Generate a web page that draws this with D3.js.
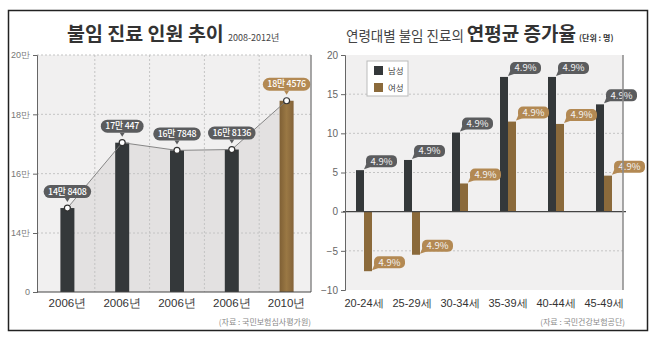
<!DOCTYPE html>
<html>
<head>
<meta charset="utf-8">
<script src="https://d3js.org/d3.v7.min.js"></script>
<style>
  body { margin: 0; background: #fff; }
  svg { display: block; font-family: "Noto Sans CJK KR", "Noto Sans", sans-serif; }
</style>
</head>
<body>
<svg id="chart"></svg>
<script>
// left panel: number of infertility patients
const years = ["2006년", "2006년", "2006년", "2006년", "2010년"];
const patients = [148408, 170447, 167848, 168136, 184576];
const patientTicks = [0, 140000, 160000, 180000, 200000];
const patientTickLabels = ["0", "14만", "16만", "18만", "20만"];

// right panel: average annual growth by age group
const ageGroups = ["20-24세", "25-29세", "30-34세", "35-39세", "40-44세", "45-49세"];
const male = [5.3, 6.6, 10.1, 17.2, 17.2, 13.7];
const female = [-7.6, -5.5, 3.6, 11.5, 11.2, 4.6];
const maleLabels = ["4.9%", "4.9%", "4.9%", "4.9%", "4.9%", "4.9%"];
const femaleLabels = ["4.9%", "4.9%", "4.9%", "4.9%", "4.9%", "4.9%"];
const sexes = ["남성", "여성"];
const rateTicks = [-10, -5, 0, 5, 10, 15, 20];

const width = 658, height = 342;
const dark = "#34383a", gold = "#8b6a3b";
const darkTag = "#5b5c5e", goldTag = "#b38953";

const svg = d3.select("#chart")
    .attr("width", width)
    .attr("height", height)
    .attr("viewBox", [0, 0, width, height]);

const defs = svg.append("defs");
const grad = defs.append("linearGradient").attr("id", "goldbar").attr("x1", 0).attr("x2", 1);
grad.append("stop").attr("offset", "0%").attr("stop-color", "#7f6035");
grad.append("stop").attr("offset", "50%").attr("stop-color", "#9a7844");
grad.append("stop").attr("offset", "100%").attr("stop-color", "#846339");

// outer frame
svg.append("rect")
    .attr("x", 8.5).attr("y", 10.5).attr("width", 639).attr("height", 320)
    .attr("fill", "none").attr("stroke", "#222").attr("stroke-width", 1.5);

// ---------- left chart ----------
const L = { left: 37, right: 311, top: 55, bottom: 292 };

// broken axis: 0 sits one step below 14만
const yL = d3.scaleLinear()
    .domain([0, 140000, 200000])
    .range([L.bottom, 233, L.top]);

const xL = d3.scaleBand()
    .domain(d3.range(years.length))
    .range([40, 314]);

const left = svg.append("g");

left.append("rect")
    .attr("x", L.left).attr("y", L.top)
    .attr("width", L.right - L.left).attr("height", L.bottom - L.top)
    .attr("fill", "#f1f0f0");

const cx = i => xL(i) + xL.bandwidth() / 2;

left.append("path")
    .datum(patients)
    .attr("fill", "#e3e1e1")
    .attr("d", d3.area().x((d, i) => cx(i)).y0(L.bottom).y1(d => yL(d)));

// grid
left.append("g")
    .selectAll("line")
    .data(d3.range(1, years.length))
    .join("line")
    .attr("x1", i => xL(i)).attr("x2", i => xL(i))
    .attr("y1", L.top).attr("y2", L.bottom)
    .attr("stroke", "#c4c4c4").attr("stroke-dasharray", "2,2");

left.append("g")
    .selectAll("line")
    .data(patientTicks.slice(1))
    .join("line")
    .attr("x1", L.left).attr("x2", L.right)
    .attr("y1", d => yL(d)).attr("y2", d => yL(d))
    .attr("stroke", "#c4c4c4").attr("stroke-dasharray", "2,2");

left.append("g")
    .selectAll("rect")
    .data(patients)
    .join("rect")
    .attr("x", (d, i) => cx(i) - 7)
    .attr("width", 14)
    .attr("y", d => yL(d))
    .attr("height", d => L.bottom - yL(d))
    .attr("fill", (d, i) => i === patients.length - 1 ? "url(#goldbar)" : dark);

left.append("path")
    .datum(patients)
    .attr("fill", "none")
    .attr("stroke", "#7a7a7a")
    .attr("stroke-width", 0.9)
    .attr("d", d3.line().x((d, i) => cx(i)).y(d => yL(d)));

left.append("g")
    .selectAll("circle")
    .data(patients)
    .join("circle")
    .attr("cx", (d, i) => cx(i))
    .attr("cy", d => yL(d))
    .attr("r", 3)
    .attr("fill", "#fff")
    .attr("stroke", "#333")
    .attr("stroke-width", 1.2);

// value tags, sized to their text
const fmtMan = v => `${Math.floor(v / 10000)}만 ${v % 10000}`;
const tagL = left.append("g")
    .selectAll("g")
    .data(patients)
    .join("g")
    .attr("transform", (d, i) => `translate(${cx(i)},${yL(d) - 10})`);
tagL.each(function (d, i) {
    const g = d3.select(this);
    const c = i === patients.length - 1 ? goldTag : darkTag;
    const bg = g.append("rect").attr("y", -13).attr("height", 13).attr("rx", 6.5).attr("fill", c);
    g.append("path").attr("d", "M-2.5,0L0,4L2.5,0Z").attr("fill", c);
    const t = g.append("text")
        .attr("y", -3.3)
        .attr("text-anchor", "middle")
        .attr("fill", "#fff")
        .attr("font-size", 8.8)
        .attr("font-weight", 500)
        .attr("letter-spacing", -0.2)
        .text(fmtMan(d));
    const w = t.node().getComputedTextLength() + 9;
    bg.attr("x", -w / 2).attr("width", w);
});

// axes
const axL = left.append("g")
    .attr("transform", `translate(${L.left},0)`)
    .call(d3.axisLeft(yL).tickValues(patientTicks).tickFormat((d, i) => patientTickLabels[i]).tickSize(4));
axL.select(".domain").attr("stroke", "#666");
axL.selectAll(".tick line").attr("stroke", "#666");
axL.selectAll("text").attr("fill", "#777").attr("font-size", 9).attr("font-family", null);

left.append("line")
    .attr("x1", L.right).attr("x2", L.right).attr("y1", L.top).attr("y2", L.bottom)
    .attr("stroke", "#8a8a8a").attr("stroke-width", 1.5);
left.append("line")
    .attr("x1", L.left).attr("x2", L.right).attr("y1", L.bottom).attr("y2", L.bottom)
    .attr("stroke", "#444").attr("stroke-width", 1.2);

const axLB = left.append("g")
    .attr("transform", `translate(0,${L.bottom})`)
    .call(d3.axisBottom(xL).tickSize(0).tickPadding(7).tickFormat(i => years[i]));
axLB.select(".domain").remove();
axLB.selectAll("text").attr("fill", "#333").attr("font-size", 11.5).attr("font-family", null);

left.append("text")
    .attr("x", 67).attr("y", 41)
    .attr("font-size", 19.5).attr("font-weight", 700).attr("fill", "#333")
    .text("불임 진료 인원 추이");
left.append("text")
    .attr("x", 228).attr("y", 41)
    .attr("font-size", 9).attr("fill", "#444")
    .text("2008-2012년");
left.append("text")
    .attr("x", 311).attr("y", 325)
    .attr("text-anchor", "end")
    .attr("font-size", 8).attr("fill", "#888")
    .text("(자료 : 국민보험심사평가원)");

// ---------- right chart ----------
const R = { left: 345, right: 623, top: 55, bottom: 290 };

const yR = d3.scaleLinear().domain([-10, 20]).range([R.bottom, R.top]);
const xR = d3.scaleBand().domain(ageGroups).range([340, 628]);
const xSex = d3.scaleBand().domain(sexes).range([-8, 8]);

const right = svg.append("g");

right.append("rect")
    .attr("x", R.left).attr("y", R.top)
    .attr("width", R.right - R.left).attr("height", R.bottom - R.top)
    .attr("fill", "#f1f0f0");

right.append("g")
    .selectAll("line")
    .data(rateTicks.filter(d => d !== 0 && d !== -10 && d !== 20))
    .join("line")
    .attr("x1", R.left).attr("x2", R.right)
    .attr("y1", d => yR(d)).attr("y2", d => yR(d))
    .attr("stroke", "#c4c4c4").attr("stroke-dasharray", "2,2");

const series = [
    { key: "남성", values: male, labels: maleLabels, fill: dark, tag: darkTag },
    { key: "여성", values: female, labels: femaleLabels, fill: gold, tag: goldTag }
];

const rows = series.flatMap(s => s.values.map((v, i) => ({ s, v, i, cat: ageGroups[i], label: s.labels[i] })));
const barX = d => xR(d.cat) + xR.bandwidth() / 2 + xSex(d.s.key);

right.append("g")
    .selectAll("rect")
    .data(rows)
    .join("rect")
    .attr("x", barX)
    .attr("width", xSex.bandwidth())
    .attr("y", d => Math.min(yR(d.v), yR(0)))
    .attr("height", d => Math.abs(yR(d.v) - yR(0)))
    .attr("fill", d => d.s.fill);

// zero line
right.append("line")
    .attr("x1", R.left - 2).attr("x2", R.right + 3)
    .attr("y1", yR(0)).attr("y2", yR(0))
    .attr("stroke", "#444").attr("stroke-width", 1.2);

const tagR = right.append("g")
    .selectAll("g")
    .data(rows)
    .join("g")
    .attr("transform", d => `translate(${barX(d) + xSex.bandwidth() + 2},${yR(d.v) - 3})`);
tagR.append("rect")
    .attr("x", 0).attr("y", -12).attr("width", 31).attr("height", 12)
    .attr("rx", 5).attr("fill", d => d.s.tag);
tagR.append("path")
    .attr("d", "M1,-5L-2,2L7,-1Z")
    .attr("fill", d => d.s.tag);
tagR.append("text")
    .attr("x", 15.5).attr("y", -2.5)
    .attr("text-anchor", "middle")
    .attr("fill", "#f2f2f2")
    .attr("font-size", 9.5)
    .text(d => d.label);

const axR = right.append("g")
    .attr("transform", `translate(${R.left},0)`)
    .call(d3.axisLeft(yR).tickValues(rateTicks).tickSize(4));
axR.select(".domain").attr("stroke", "#666");
axR.selectAll(".tick line").attr("stroke", "#666");
axR.selectAll("text").attr("fill", "#666").attr("font-size", 10).attr("font-family", null);

right.append("line")
    .attr("x1", R.right).attr("x2", R.right).attr("y1", R.top).attr("y2", R.bottom)
    .attr("stroke", "#8a8a8a").attr("stroke-width", 1.5);

const axRB = right.append("g")
    .attr("transform", `translate(0,${R.bottom})`)
    .call(d3.axisBottom(xR).tickSize(0).tickPadding(9));
axRB.select(".domain").remove();
axRB.selectAll("text").attr("fill", "#333").attr("font-size", 11).attr("font-family", null);

// legend
const legend = right.append("g").attr("transform", "translate(367,61)");
legend.append("rect")
    .attr("width", 41).attr("height", 35)
    .attr("fill", "#fff").attr("stroke", "#bbb");
const li = legend.selectAll("g.item")
    .data(series)
    .join("g")
    .attr("class", "item")
    .attr("transform", (d, i) => `translate(7,${5 + i * 17})`);
li.append("rect").attr("width", 9).attr("height", 9).attr("fill", d => d.fill);
li.append("text")
    .attr("x", 14).attr("y", 8)
    .attr("font-size", 8.5).attr("fill", "#444")
    .text(d => d.key);

const title = right.append("text").attr("x", 346).attr("y", 41).attr("fill", "#333");
title.append("tspan").attr("font-size", 13.5).attr("fill", "#444").text("연령대별 불임 진료의 ");
title.append("tspan").attr("font-size", 19).attr("font-weight", 700).text("연평균 증가율");
title.append("tspan").attr("font-size", 8).attr("font-weight", 700).attr("dx", 3).text("(단위 : 명)");

right.append("text")
    .attr("x", 625).attr("y", 325)
    .attr("text-anchor", "end")
    .attr("font-size", 8).attr("fill", "#888")
    .text("(자료 : 국민건강보험공단)");
</script>
</body>
</html>
